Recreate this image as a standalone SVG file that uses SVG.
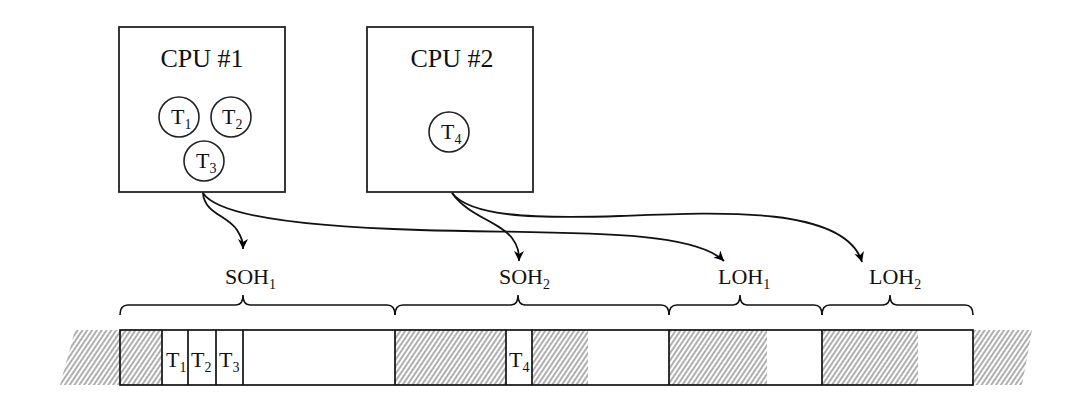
<svg xmlns="http://www.w3.org/2000/svg" width="1084" height="405" viewBox="0 0 1084 405">
<defs>
<pattern id="hatch" patternUnits="userSpaceOnUse" width="4" height="4" patternTransform="rotate(34)">
<line x1="1" y1="0" x2="1" y2="4" stroke="#7a7a7a" stroke-width="1.2"/>
</pattern>
<marker id="arr" markerUnits="userSpaceOnUse" markerWidth="14" markerHeight="12" refX="10" refY="5" orient="auto">
<path d="M0,0 L10,5 L0,10 L3,5 Z" fill="#000"/>
</marker>
<style>
.box{fill:#fff;stroke:#222;stroke-width:1.8}
.circ{fill:#fff;stroke:#222;stroke-width:1.6}
.t{font-family:"Liberation Serif","Times New Roman",serif;fill:#111}
.lbl{font-size:22px}
.sub{font-size:14px}
.conn{fill:none;stroke:#111;stroke-width:1.8}
.brace{fill:none;stroke:#111;stroke-width:1.6}
.hatch{fill:url(#hatch);stroke:none}
.cell{fill:none;stroke:#111;stroke-width:1.7}
</style>
</defs>
<rect width="1084" height="405" fill="#fff"/>

<g id="cpu1">
<rect class="box" x="119" y="27" width="166" height="165"/>
<text class="t" x="202" y="67" font-size="26" text-anchor="middle">CPU #1</text>
<circle class="circ" cx="179" cy="117" r="20"/>
<text class="t lbl" x="171" y="124">T<tspan class="sub" dy="5">1</tspan></text>
<circle class="circ" cx="231" cy="117" r="20"/>
<text class="t lbl" x="222" y="124">T<tspan class="sub" dy="5">2</tspan></text>
<circle class="circ" cx="204" cy="161" r="20"/>
<text class="t lbl" x="196" y="168">T<tspan class="sub" dy="5">3</tspan></text>
</g>

<g id="cpu2">
<rect class="box" x="367" y="27" width="166" height="165"/>
<text class="t" x="452" y="67" font-size="26" text-anchor="middle">CPU #2</text>
<circle class="circ" cx="449" cy="132" r="20"/>
<text class="t lbl" x="441" y="139">T<tspan class="sub" dy="5">4</tspan></text>
</g>

<g id="connectors">
<path class="conn" d="M203,193 C204,213 228,216 237,230 C242,238 243,242 243,249" marker-end="url(#arr)"/>
<path class="conn" d="M203,193 C215,212 280,226 420,230 C560,234 690,228 724,261" marker-end="url(#arr)"/>
<path class="conn" d="M452,193 C468,216 500,222 512,238 C518,246 519,252 519,261" marker-end="url(#arr)"/>
<path class="conn" d="M452,193 C470,216 530,219 620,216 C720,212 845,206 862,262" marker-end="url(#arr)"/>
</g>

<g id="braces">
<path class="brace" d="M120,315 Q120,305 128,305 L236,305 Q243,305 243,295 Q243,305 250,305 L387,305 Q395,305 395,315"/>
<path class="brace" d="M395,315 Q395,305 403,305 L511,305 Q518,305 518,295 Q518,305 525,305 L661,305 Q669,305 669,315"/>
<path class="brace" d="M669,315 Q669,305 677,305 L733,305 Q740,305 740,295 Q740,305 747,305 L814,305 Q822,305 822,315"/>
<path class="brace" d="M822,315 Q822,305 830,305 L883,305 Q890,305 890,295 Q890,305 897,305 L965,305 Q973,305 973,315"/>
</g>

<g id="labels">
<text class="t lbl" x="225" y="284">SOH<tspan class="sub" dy="5">1</tspan></text>
<text class="t lbl" x="499" y="284">SOH<tspan class="sub" dy="5">2</tspan></text>
<text class="t lbl" x="718" y="284">LOH<tspan class="sub" dy="5">1</tspan></text>
<text class="t lbl" x="869" y="284">LOH<tspan class="sub" dy="5">2</tspan></text>
</g>

<g id="strip">
<polygon class="hatch" points="75,330 120,330 120,385 60,385"/>
<polygon class="hatch" points="973,330 1032,330 1022,385 973,385"/>
<rect class="hatch" x="120" y="330" width="42" height="55"/>
<rect class="hatch" x="395" y="330" width="111" height="55"/>
<rect class="hatch" x="532" y="330" width="56" height="55"/>
<rect class="hatch" x="669" y="330" width="98" height="55"/>
<rect class="hatch" x="822" y="330" width="96" height="55"/>
<rect class="cell" x="120" y="330" width="853" height="55"/>
<line class="cell" x1="162" y1="330" x2="162" y2="385"/>
<line class="cell" x1="188" y1="330" x2="188" y2="385"/>
<line class="cell" x1="216" y1="330" x2="216" y2="385"/>
<line class="cell" x1="243" y1="330" x2="243" y2="385"/>
<line class="cell" x1="395" y1="330" x2="395" y2="385"/>
<line class="cell" x1="506" y1="330" x2="506" y2="385"/>
<line class="cell" x1="532" y1="330" x2="532" y2="385"/>
<line class="cell" x1="669" y1="330" x2="669" y2="385"/>
<line class="cell" x1="822" y1="330" x2="822" y2="385"/>
<text class="t lbl" x="166" y="367">T<tspan class="sub" dy="5">1</tspan></text>
<text class="t lbl" x="191" y="367">T<tspan class="sub" dy="5">2</tspan></text>
<text class="t lbl" x="219" y="367">T<tspan class="sub" dy="5">3</tspan></text>
<text class="t lbl" x="509" y="367">T<tspan class="sub" dy="5">4</tspan></text>
</g>
</svg>
